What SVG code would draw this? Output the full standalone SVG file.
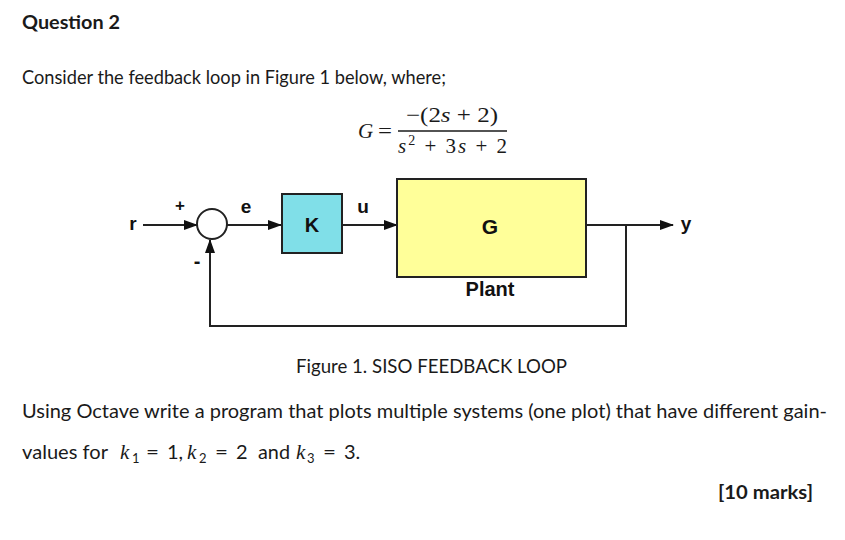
<svg xmlns="http://www.w3.org/2000/svg" width="845" height="540" viewBox="0 0 845 540">
<defs>
<marker id="ah" markerWidth="14" markerHeight="10" refX="13" refY="5" orient="auto" markerUnits="userSpaceOnUse">
<path d="M0,0 L14,5 L0,10 Z" fill="#111"/>
</marker>
<style>
.t{font-family:Lato,"Open Sans","Liberation Sans",sans-serif;font-size:19px;fill:#1a1a1a}
.b{font-weight:bold}
.m{font-family:"Liberation Serif","DejaVu Serif",serif;font-size:21px;fill:#1a1a1a}
.i{font-style:italic}
.s{font-family:Lato,"Open Sans","Liberation Sans",sans-serif;font-size:20px;fill:#1a1a1a}
.sub{font-family:Lato,"Open Sans","Liberation Sans",sans-serif;font-size:13px;fill:#1a1a1a}
.d{font-family:"Liberation Sans",Arial,sans-serif;font-weight:bold;fill:#111}
.ln{stroke:#222;stroke-width:2;fill:none}
</style>
</defs>
<rect width="845" height="540" fill="#fff"/>
<text class="t b" x="22" y="29" textLength="98" lengthAdjust="spacingAndGlyphs">Question 2</text>
<text class="t" x="22" y="84" textLength="424" lengthAdjust="spacingAndGlyphs">Consider the feedback loop in Figure 1 below, where;</text>
<g id="formula">
<text class="m i" x="358" y="138">G</text>
<text class="m" x="378" y="138" textLength="14" lengthAdjust="spacingAndGlyphs">=</text>
<text class="m" x="406" y="122" textLength="92" lengthAdjust="spacingAndGlyphs">−(2<tspan class="i">s</tspan> + 2)</text>
<line x1="398" y1="131" x2="507" y2="131" stroke="#1a1a1a" stroke-width="1.3"/>
<text class="m" x="398" y="153" textLength="109" lengthAdjust="spacing"><tspan class="i">s</tspan><tspan font-size="14" dy="-8">2</tspan><tspan dy="8"> + 3</tspan><tspan class="i">s</tspan> + 2</text>
</g>
<g id="connectors">
<line class="ln" x1="143" y1="225" x2="197" y2="225" marker-end="url(#ah)"/>
<line class="ln" x1="227" y1="225" x2="281" y2="225" marker-end="url(#ah)"/>
<line class="ln" x1="342" y1="225" x2="397" y2="225" marker-end="url(#ah)"/>
<line class="ln" x1="586" y1="225" x2="673" y2="225" marker-end="url(#ah)"/>
<polyline class="ln" points="626,225 626,326 210,326 210,240" marker-end="url(#ah)"/>
</g>
<g id="sum">
<circle cx="212" cy="224" r="15" fill="#fff" stroke="#222" stroke-width="2"/>
<text class="d" x="180" y="211" font-size="17" text-anchor="middle">+</text>
<text class="d" x="197" y="268" font-size="20" text-anchor="middle">-</text>
</g>
<g id="labels">
<text class="d" x="133" y="230" font-size="19" text-anchor="middle">r</text>
<text class="d" x="246" y="213" font-size="19" text-anchor="middle">e</text>
<text class="d" x="363" y="213" font-size="19" text-anchor="middle">u</text>
<text class="d" x="686" y="230" font-size="19" text-anchor="middle">y</text>
</g>
<g id="K">
<rect x="282" y="194" width="60" height="59" fill="#80dfe8" stroke="#222" stroke-width="2"/>
<text class="d" x="312" y="232" font-size="20" text-anchor="middle">K</text>
</g>
<g id="plant">
<rect x="397" y="179" width="189" height="98" fill="#ffff99" stroke="#222" stroke-width="2"/>
<text class="d" x="490" y="234" font-size="21" text-anchor="middle">G</text>
<text class="d" x="490" y="296" font-size="20" text-anchor="middle">Plant</text>
</g>
<text class="t" x="296" y="373" textLength="271" lengthAdjust="spacingAndGlyphs">Figure 1. SISO FEEDBACK LOOP</text>
<text class="t" x="22" y="418" textLength="805" lengthAdjust="spacingAndGlyphs">Using Octave write a program that plots multiple systems (one plot) that have different gain-</text>
<text class="t" x="22" y="459" textLength="86" lengthAdjust="spacingAndGlyphs">values for</text>
<g id="math2">
<text class="m i" x="120" y="459">k</text><text class="sub" x="132" y="463">1</text>
<text class="s" x="146" y="459" textLength="13" lengthAdjust="spacingAndGlyphs">=</text><text class="s" x="167" y="459">1,</text>
<text class="m i" x="187" y="459">k</text><text class="sub" x="199" y="463">2</text>
<text class="s" x="215" y="459" textLength="13" lengthAdjust="spacingAndGlyphs">=</text><text class="s" x="236" y="459">2</text>
<text class="t" x="258" y="459" textLength="32" lengthAdjust="spacingAndGlyphs">and</text>
<text class="m i" x="296" y="459">k</text><text class="sub" x="307" y="463">3</text>
<text class="s" x="323" y="459" textLength="13" lengthAdjust="spacingAndGlyphs">=</text><text class="s" x="344" y="459">3.</text>
</g>
<text class="t b" x="718" y="499" textLength="95" lengthAdjust="spacingAndGlyphs">[10 marks]</text>
</svg>
